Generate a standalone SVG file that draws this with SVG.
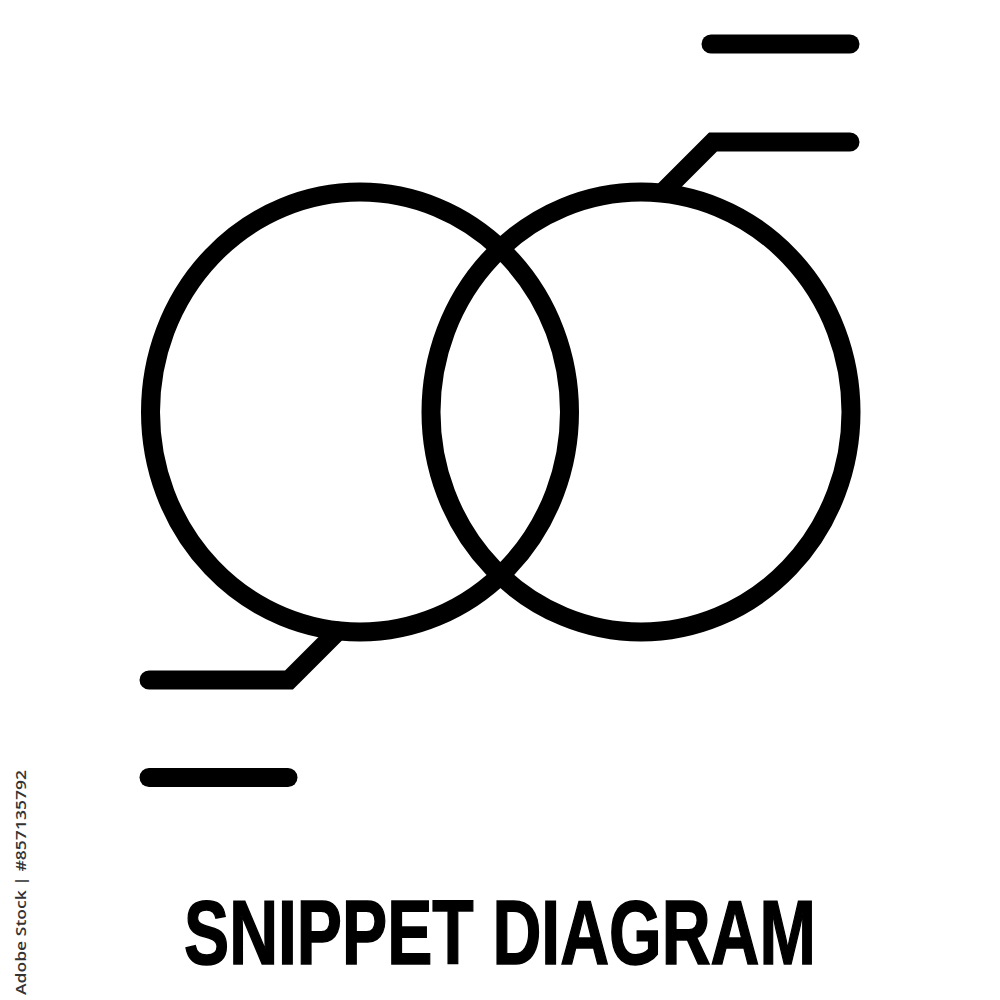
<svg xmlns="http://www.w3.org/2000/svg" width="1000" height="1000" viewBox="0 0 1000 1000">
  <style>
    .ln { fill: none; stroke: #000; stroke-width: 19; stroke-linecap: round; stroke-linejoin: miter; }
    .title { font-family: "Liberation Sans", Arial, sans-serif; font-weight: bold; font-size: 91px; fill: #000; stroke: #000; stroke-width: 1.6; }
    .wm { font-family: "Open Sans", "Liberation Sans", sans-serif; font-size: 15px; font-weight: 600; fill: #333; }
  </style>
  <rect width="1000" height="1000" fill="#fff"/>
  <g id="circle-left">
    <ellipse class="ln" cx="360" cy="412" rx="209.5" ry="220"/>
  </g>
  <g id="circle-right">
    <ellipse class="ln" cx="641" cy="412" rx="210" ry="220"/>
  </g>
  <g id="connectors">
    <line class="ln" x1="711" y1="44" x2="850" y2="44"/>
    <polyline class="ln" points="663,192 713,142 850,142"/>
    <polyline class="ln" points="149,680 289,680 338,631"/>
    <line class="ln" x1="149" y1="777.5" x2="288" y2="777.5"/>
  </g>
  <g id="label">
    <text class="title" transform="translate(184,964) scale(0.744,1)" x="0" y="0">SNIPPET DIAGRAM</text>
  </g>
  <g id="watermark">
    <text class="wm" transform="translate(26,995) rotate(-90)" textLength="225" lengthAdjust="spacingAndGlyphs">Adobe Stock | #857135792</text>
  </g>
</svg>
